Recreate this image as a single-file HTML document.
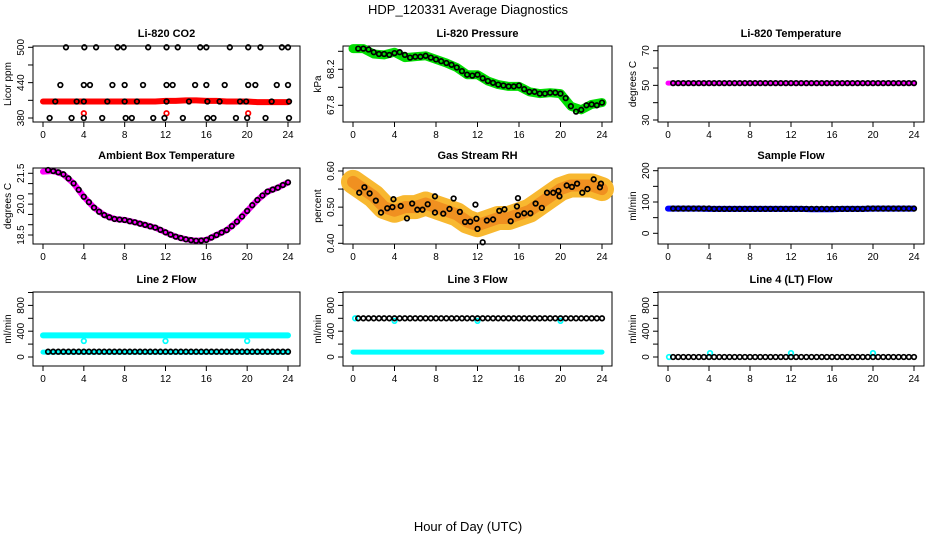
<!DOCTYPE html>
<html><head><meta charset="utf-8"><style>
body{margin:0;background:#fff}
svg{display:block;font-family:"Liberation Sans",sans-serif}
</style></head><body>
<svg id="c" width="936" height="540" viewBox="0 0 936 540">
<text x="468" y="14" text-anchor="middle" font-size="13">HDP_120331  Average Diagnostics</text>
<text x="468" y="531" text-anchor="middle" font-size="13">Hour of Day (UTC)</text>
</svg>
<script>
const xTicks=[0,4,8,12,16,20,24];
const co2Hours500=[2.25,4.05,5.2,7.3,7.9,10.3,12.1,13.2,15.4,16.0,18.3,20.1,21.3,23.4,24.0];
const co2Hours440=[1.7,4.0,4.6,6.8,8.0,9.8,12.1,12.7,14.9,16.0,17.8,20.1,20.8,22.9,24.0];
const co2Hours410=[1.2,3.3,4.0,6.3,8.0,9.2,12.1,14.3,16.1,17.3,19.3,19.9,22.4,24.1];
const co2Hours380=[0.65,2.8,4.0,5.8,8.1,8.7,10.8,11.9,13.7,16.1,16.7,18.9,20.0,21.8,24.1];
const co2Levels=[500,436,408,380];
const co2Red=[408,408,408,408,408,408,408,408,408,408,408,408,409,409,410,410,409,409,408,408,408,407,407,407,407];
const co2RedOut=[[4.0,388],[12.1,388],[20.1,388]];
const presColor=[68.43,68.43,68.37,68.36,68.39,68.33,68.34,68.35,68.31,68.27,68.22,68.14,68.14,68.07,68.03,68.01,68.01,67.95,67.93,67.94,67.93,67.79,67.75,67.81,67.83];
const presBlack=[68.43,68.43,68.42,68.39,68.37,68.37,68.36,68.38,68.39,68.36,68.33,68.34,68.34,68.35,68.33,68.31,68.29,68.27,68.25,68.22,68.18,68.14,68.13,68.14,68.10,68.07,68.05,68.03,68.02,68.01,68.01,68.02,67.98,67.95,67.95,67.93,67.93,67.94,67.94,67.93,67.88,67.79,67.73,67.75,67.80,67.81,67.80,67.83];
const tempColor=[51.3,51.3,51.3,51.3,51.3,51.3,51.3,51.3,51.3,51.3,51.3,51.3,51.3,51.3,51.3,51.3,51.3,51.3,51.3,51.3,51.3,51.3,51.3,51.3,51.3];
const tempBlack=[51.3,51.3,51.3,51.3,51.3,51.3,51.3,51.3,51.3,51.3,51.3,51.3,51.3,51.3,51.3,51.3,51.3,51.3,51.3,51.3,51.3,51.3,51.3,51.3,51.3,51.3,51.3,51.3,51.3,51.3,51.3,51.3,51.3,51.3,51.3,51.3,51.3,51.3,51.3,51.3,51.3,51.3,51.3,51.3,51.3,51.3,51.3,51.3];
const ambColor=[21.58,21.61,21.45,21.01,20.36,19.83,19.47,19.28,19.23,19.12,18.99,18.86,18.63,18.42,18.29,18.22,18.26,18.5,18.74,19.15,19.67,20.2,20.61,20.8,21.06];
const ambBlack=[21.66,21.61,21.55,21.45,21.25,21.01,20.7,20.36,20.1,19.83,19.63,19.47,19.36,19.28,19.25,19.23,19.17,19.12,19.05,18.99,18.92,18.86,18.75,18.63,18.52,18.42,18.35,18.29,18.25,18.22,18.23,18.26,18.38,18.5,18.62,18.74,18.93,19.15,19.4,19.67,19.95,20.2,20.42,20.61,20.71,20.8,20.93,21.06];
const rhColor=[0.57,0.55,0.53,0.50,0.49,0.50,0.50,0.51,0.50,0.49,0.48,0.46,0.45,0.46,0.47,0.47,0.48,0.49,0.51,0.53,0.55,0.56,0.56,0.56,0.55];
const rhHours=[0.6,1.1,1.6,2.2,2.7,3.3,3.8,3.9,4.6,5.2,5.7,6.2,6.7,7.2,7.9,7.9,8.7,9.3,9.7,10.3,10.8,11.3,11.8,11.9,12.0,12.5,12.9,13.5,14.1,14.6,15.2,15.8,15.9,15.9,16.5,17.1,17.6,18.2,18.7,19.3,19.8,19.9,20.6,21.1,21.6,22.1,22.6,23.2,23.8,23.9];
const rhBlack=[0.54,0.555,0.538,0.518,0.485,0.497,0.50,0.522,0.503,0.469,0.51,0.493,0.493,0.508,0.53,0.485,0.482,0.495,0.524,0.487,0.459,0.46,0.507,0.468,0.44,0.403,0.463,0.466,0.49,0.494,0.461,0.502,0.525,0.478,0.483,0.483,0.51,0.498,0.54,0.54,0.545,0.53,0.56,0.556,0.565,0.54,0.55,0.577,0.555,0.565];
const sampColor=[79,79,79,79,78,78,78,78,78,78,78,78,78,78,77,77,77,78,78,78,79,79,79,79,79];
const sampBlack=[79,79,79,79,79,79,79,79,78,78,78,78,78,78,78,78,78,78,78,78,78,78,78,78,78,78,78,78,78,78,78,78,78,78,78,78,78,78,79,79,79,79,79,79,79,79,79,79];
const l2Upper=[336,336,336,336,336,336,336,336,336,336,336,336,336,336,336,336,336,336,336,336,336,336,336,336,336];
const l2Lower=[75,75,75,75,75,75,75,75,75,75,75,75,75,75,75,75,75,75,75,75,75,75,75,75,75];
const l2Out=[[4.0,248],[12.0,248],[20.0,248]];
const l2Black=[82,82,82,82,82,82,82,82,82,82,82,82,82,82,82,82,82,82,82,82,82,82,82,82,82,82,82,82,82,82,82,82,82,82,82,82,82,82,82,82,82,82,82,82,82,82,82,82];
const l3Cyan=[75,75,75,75,75,75,75,75,75,75,75,75,75,75,75,75,75,75,75,75,75,75,75,75,75];
const l3Out=[[0.2,600],[4.0,560],[12.0,560],[20.0,560]];
const l3Black=[600,600,600,600,600,600,600,600,600,600,600,600,600,600,600,600,600,600,600,600,600,600,600,600,600,600,600,600,600,600,600,600,600,600,600,600,600,600,600,600,600,600,600,600,600,600,600,600];
const l4Out=[[0.1,0],[4.1,60],[12.0,60],[20.0,60]];
const l4Black=[0,0,0,0,0,0,0,0,0,0,0,0,0,0,0,0,0,0,0,0,0,0,0,0,0,0,0,0,0,0,0,0,0,0,0,0,0,0,0,0,0,0,0,0,0,0,0,0];

const NS="http://www.w3.org/2000/svg";
const svg=document.getElementById('c');
function mk(tag,attrs,parent){const e=document.createElementNS(NS,tag);for(const k in attrs)e.setAttribute(k,attrs[k]);(parent||svg).appendChild(e);return e;}
const cols=[{bx0:33,bx1:300,h0:43,h24:288},{bx0:343,bx1:612,h0:353,h24:602},{bx0:658,bx1:924,h0:668,h24:914}];
const rows=[{by0:46,by1:122},{by0:168,by1:244},{by0:292,by1:366}];

function panel(ci,ri,name,title,ylab,ticks,labels,vmin,vmax,ymin,ymax){
  const c=cols[ci],r=rows[ri];
  const g=mk('g',{});
  
  
  const X=h=>c.h0+h*(c.h24-c.h0)/24;
  const Y=v=>ymin+(v-vmin)*(ymax-ymin)/(vmax-vmin);
  const box=mk('rect',{x:c.bx0,y:r.by0,width:c.bx1-c.bx0,height:r.by1-r.by0,fill:'none',stroke:'#000','stroke-width':1},g);
  
  
  const t=mk('text',{x:(c.bx0+c.bx1)/2,y:r.by0-9,'text-anchor':'middle','font-size':11,'font-weight':'bold'},g);
  t.textContent=title;
  
  
  xTicks.forEach(h=>{
    mk('line',{x1:X(h),x2:X(h),y1:r.by1,y2:r.by1+5,stroke:'#000'},g);
    const tl=mk('text',{x:X(h),y:r.by1+16,'text-anchor':'middle','font-size':10},g);
    tl.textContent=h;
    
    
  });
  ticks.forEach(v=>{
    const y=Y(v);
    mk('line',{x1:c.bx0-5,x2:c.bx0,y1:y,y2:y,stroke:'#000'},g);
  });
  labels.forEach(l=>{
    const y=Y(parseFloat(l));
    const tl=mk('text',{x:c.bx0-9,y:y,'text-anchor':'middle','font-size':10,transform:`rotate(-90 ${c.bx0-9} ${y})`},g);
    tl.textContent=l;
    
    
  });
  const yl=mk('text',{x:c.bx0-22,y:(r.by0+r.by1)/2,'text-anchor':'middle','font-size':10,transform:`rotate(-90 ${c.bx0-22} ${(r.by0+r.by1)/2})`},g);
  yl.textContent=ylab;
  
  
  return {g,X,Y};
}
function band(p,vals,color,w,name){
  const pts=vals.map((v,i)=>p.X(i)+','+p.Y(v)).join(' ');
  const e=mk('polyline',{points:pts,fill:'none',stroke:color,'stroke-width':w,'stroke-linejoin':'round','stroke-linecap':'round'},p.g);
  
  
}
function dot(p,h,v,color,name){
  const e=mk('circle',{cx:p.X(h),cy:p.Y(v),r:2.3,fill:'none',stroke:color,'stroke-width':1.7},p.g);
  
  
}
function blackHalf(p,vals,name){vals.forEach((v,i)=>dot(p,0.5*(i+1),v,'#000',name));}

let p=panel(0,0,'co2-panel','Li-820 CO2','Licor ppm',[380,410,440,470,500],['380','440','500'],380,500,118,47.3);
band(p,co2Red,'#ff0000',6,'co2-red-series');
co2RedOut.forEach(d=>dot(p,d[0],d[1],'#ff0000','co2-red-outlier'));
[co2Hours500,co2Hours440,co2Hours410,co2Hours380].forEach((hs,k)=>hs.forEach(h=>dot(p,h,co2Levels[k],'#000','co2-black-point')));
p=panel(1,0,'pressure-panel','Li-820 Pressure','kPa',[67.8,68.0,68.2,68.4],['67.8','68.2'],68.0,68.2,87.3,69.3);
band(p,presColor,'#00dd00',9,'pressure-green-series');
blackHalf(p,presBlack,'pressure-black-point');
p=panel(2,0,'temperature-panel','Li-820 Temperature','degrees C',[30,40,50,60,70],['30','50','70'],30,70,120,50.7);
band(p,tempColor,'#ff00ff',5,'temperature-magenta-series');
blackHalf(p,tempBlack,'temperature-black-point');
p=panel(0,1,'ambient-panel','Ambient Box Temperature','degrees C',[18.5,19,19.5,20,20.5,21,21.5],['18.5','20.0','21.5'],18.5,21.5,235,173.3);
band(p,ambColor,'#ff00ff',6,'ambient-magenta-series');
blackHalf(p,ambBlack,'ambient-black-point');
p=panel(1,1,'rh-panel','Gas Stream RH','percent',[0.40,0.45,0.50,0.55,0.60],['0.40','0.50','0.60'],0.40,0.60,243.3,171.0);
band(p,rhColor,'#f8b830',24,'rh-orange-series');
band(p,rhColor,'#f09020',12,'rh-orange-core');
rhHours.forEach((h,i)=>dot(p,h,rhBlack[i],'#000','rh-black-point'));
p=panel(2,1,'sample-flow-panel','Sample Flow','ml/min',[0,50,100,150,200],['0','100','200'],0,200,233.3,170.7);
band(p,sampColor,'#0000ff',6,'sample-flow-blue-series');
blackHalf(p,sampBlack,'sample-flow-black-point');
p=panel(0,2,'line2-panel','Line 2 Flow','ml/min',[0,200,400,600,800,1000],['0','400','800'],0,1000,357,292.5);
band(p,l2Upper,'#00ffff',6,'line2-cyan-upper');
band(p,l2Lower,'#00ffff',5,'line2-cyan-lower');
l2Out.forEach(d=>dot(p,d[0],d[1],'#00ffff','line2-cyan-outlier'));
blackHalf(p,l2Black,'line2-black-point');
p=panel(1,2,'line3-panel','Line 3 Flow','ml/min',[0,200,400,600,800,1000],['0','400','800'],0,1000,357,292.5);
band(p,l3Cyan,'#00ffff',5,'line3-cyan-series');
l3Out.forEach(d=>dot(p,d[0],d[1],'#00ffff','line3-cyan-outlier'));
blackHalf(p,l3Black,'line3-black-point');
p=panel(2,2,'line4-panel','Line 4 (LT) Flow','ml/min',[0,200,400,600,800,1000],['0','400','800'],0,1000,357,292.5);
l4Out.forEach(d=>dot(p,d[0],d[1],'#00ffff','line4-cyan-point'));
blackHalf(p,l4Black,'line4-black-point');
</script>
</body></html>
